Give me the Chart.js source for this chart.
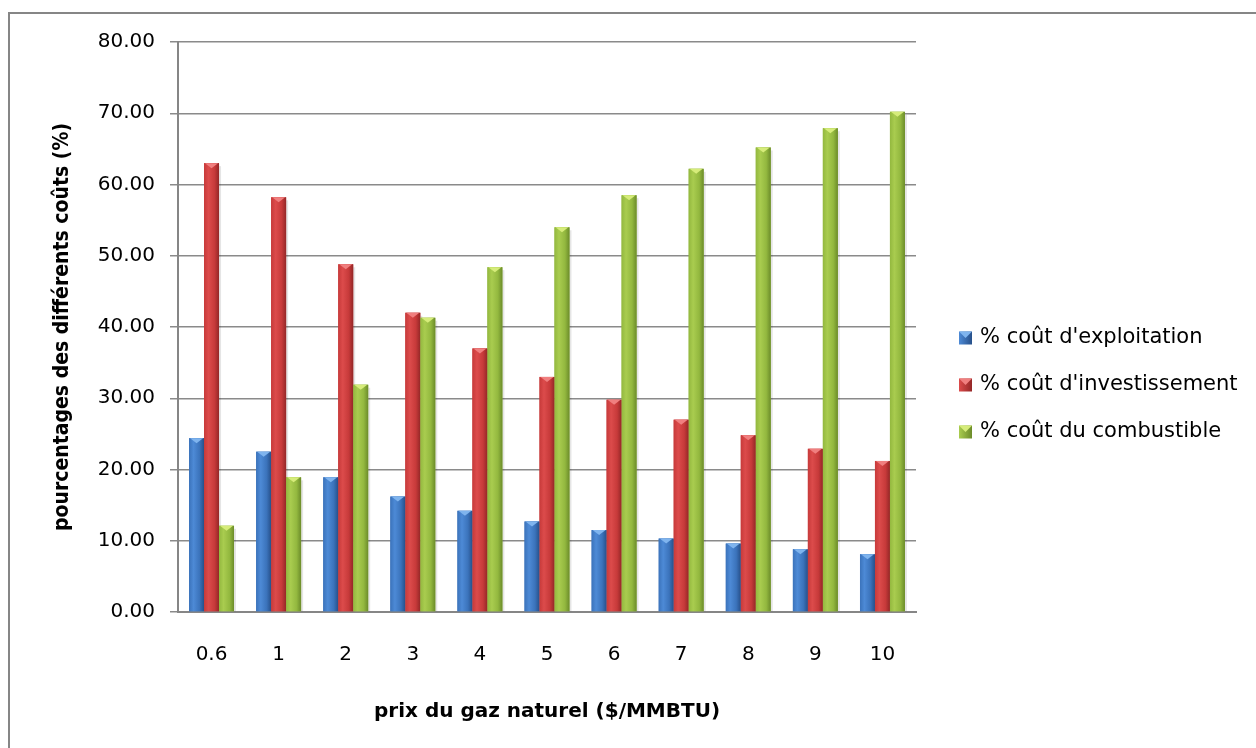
<!DOCTYPE html>
<html>
<head>
<meta charset="utf-8">
<script src="https://cdn.jsdelivr.net/npm/chart.js@4.4.1/dist/chart.umd.min.js"></script>
<style>
  html, body { margin: 0; padding: 0; background: #ffffff; }
  #wrap { width: 1256px; height: 748px; position: relative; }
</style>
</head>
<body>
<div id="wrap"><canvas id="c" width="1256" height="748"></canvas></div>
<script>
const categories = ['0.6', '1', '2', '3', '4', '5', '6', '7', '8', '9', '10'];
const coutExploitation = [24.4, 22.5, 18.9, 16.2, 14.2, 12.7, 11.5, 10.3, 9.6, 8.8, 8.1];
const coutInvestissement = [63.0, 58.2, 48.8, 42.0, 37.0, 33.0, 29.8, 27.0, 24.8, 22.9, 21.2];
const coutCombustible = [12.1, 18.9, 31.9, 41.3, 48.4, 54.0, 58.5, 62.2, 65.2, 67.9, 70.2];
const seriesLabels = ["% coût d'exploitation", "% coût d'investissement", "% coût du combustible"];
const yTicks = [0, 10, 20, 30, 40, 50, 60, 70, 80];

const palette = [
  { base: '#3b73bb', light: '#4d8ad6', dark: '#27508a' },
  { base: '#c73a3a', light: '#dc4b4b', dark: '#942727' },
  { base: '#93b83f', light: '#a9cc4f', dark: '#6c8c2a' }
];
const tipColors = ['#7fb4ee', '#f07f7f', '#d6ec7a'];

const borderPlugin = {
  id: 'outerBorder',
  beforeDraw(chart) {
    const ctx = chart.ctx;
    ctx.save();
    ctx.fillStyle = '#ffffff';
    ctx.fillRect(0, 0, chart.width, chart.height);
    ctx.strokeStyle = '#868686';
    ctx.lineWidth = 2;
    ctx.strokeRect(9, 13, 1400, 900);
    ctx.restore();
  }
};

const barShadePlugin = {
  id: 'barShade',
  afterDatasetsDraw(chart) {
    const ctx = chart.ctx;
    chart.data.datasets.forEach((ds, di) => {
      const meta = chart.getDatasetMeta(di);
      const p = palette[di];
      meta.data.forEach(el => {
        const l = el.x - el.width / 2, r = el.x + el.width / 2;
        const t = el.y, b = el.base;
        ctx.save();
        ctx.fillStyle = 'rgba(0,0,0,0.10)';
        ctx.fillRect(r, t + 3, 2, b - t - 3);
        const g = ctx.createLinearGradient(l, 0, r, 0);
        g.addColorStop(0, p.base);
        g.addColorStop(0.3, p.light);
        g.addColorStop(0.7, p.base);
        g.addColorStop(1, p.dark);
        ctx.fillStyle = g;
        ctx.fillRect(l, t, r - l, b - t);
        ctx.fillStyle = tipColors[di];
        ctx.beginPath();
        ctx.moveTo(l + 1, t);
        ctx.lineTo(r - 1, t);
        ctx.lineTo(el.x, t + 5);
        ctx.closePath();
        ctx.fill();
        ctx.restore();
      });
    });
  }
};

const legendRows = [338, 385, 432];
const legendPlugin = {
  id: 'sideLegend',
  afterDraw(chart) {
    const ctx = chart.ctx;
    ctx.save();
    chart.data.datasets.forEach((ds, i) => {
      const y = legendRows[i];
      const p = palette[i];
      const g = ctx.createLinearGradient(959, 0, 972, 0);
      g.addColorStop(0, p.light);
      g.addColorStop(1, p.dark);
      ctx.fillStyle = g;
      ctx.fillRect(959, y - 6.5, 13, 13);
      ctx.fillStyle = tipColors[i];
      ctx.beginPath();
      ctx.moveTo(959, y - 6.5); ctx.lineTo(972, y - 6.5); ctx.lineTo(965.5, y); ctx.closePath();
      ctx.fill();
      ctx.fillStyle = '#000000';
      ctx.font = '21px "DejaVu Sans", sans-serif';
      ctx.textBaseline = 'middle';
      ctx.textAlign = 'left';
      ctx.fillText(ds.label, 980, y);
    });
    ctx.restore();
  }
};

const chart = new Chart(document.getElementById('c'), {
  type: 'bar',
  data: {
    labels: categories,
    datasets: [
      { label: seriesLabels[0], data: coutExploitation, backgroundColor: palette[0].base },
      { label: seriesLabels[1], data: coutInvestissement, backgroundColor: palette[1].base },
      { label: seriesLabels[2], data: coutCombustible, backgroundColor: palette[2].base }
    ]
  },
  options: {
    responsive: false,
    animation: false,
    devicePixelRatio: 1,
    datasets: { bar: { categoryPercentage: 0.67, barPercentage: 1.0, borderWidth: 0 } },
    layout: { padding: { left: 46, top: 42, right: 340, bottom: 20 } },
    plugins: { legend: { display: false }, tooltip: { enabled: false } },
    scales: {
      x: {
        grid: { display: false, drawTicks: false },
        border: { display: true, color: '#868686', width: 2 },
        ticks: { color: '#000000', padding: 31, font: { family: 'DejaVu Sans', size: 20 } },
        title: {
          display: true,
          text: 'prix du gaz naturel ($/MMBTU)',
          color: '#000000',
          padding: { top: 4, bottom: 4 },
          font: { family: 'DejaVu Sans', size: 20, weight: 'bold' }
        },
        afterFit(scale) { scale.height = 116; }
      },
      y: {
        min: 0,
        max: 80,
        afterBuildTicks(scale) { scale.ticks = yTicks.map(v => ({ value: v })); },
        grid: { color: '#8a8a8a', lineWidth: 1.5, drawTicks: true, tickLength: 8 },
        border: { display: true, color: '#868686', width: 2 },
        ticks: {
          color: '#000000',
          padding: 15,
          font: { family: 'DejaVu Sans', size: 20 },
          callback: v => Number(v).toFixed(2)
        },
        title: {
          display: true,
          text: 'pourcentages des différents coûts (%)',
          color: '#000000',
          padding: { top: 4, bottom: 4 },
          font: { family: '"Liberation Sans Narrow", "DejaVu Sans Condensed", sans-serif', size: 21, weight: 'bold' }
        },
        afterFit(scale) { scale.width = 132; }
      }
    }
  },
  plugins: [borderPlugin, barShadePlugin, legendPlugin]
});
</script>
</body>
</html>
